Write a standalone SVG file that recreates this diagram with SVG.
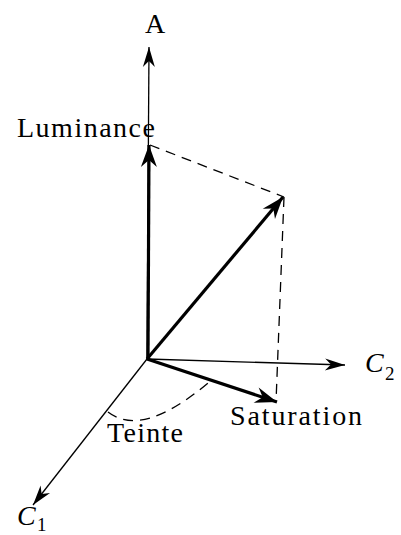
<svg xmlns="http://www.w3.org/2000/svg" width="401" height="535" viewBox="0 0 401 535">
<style>
.thin{stroke:#000;stroke-width:1.3;fill:none}
.thick{stroke:#000;stroke-width:3.2;fill:none}
.dash{stroke:#000;stroke-width:1.3;fill:none;stroke-dasharray:10 7}
text{font-family:"Liberation Serif","Times New Roman",serif;font-size:28px;fill:#000}
.it{font-style:italic}
.sub{font-size:19px}
</style>
<defs>
<marker id="ah" markerUnits="userSpaceOnUse" markerWidth="24" markerHeight="16" viewBox="-22 -8 24 16" refX="0" refY="0" orient="auto">
<path d="M0,0 L-20,-6 L-14,0 L-20,6 Z" fill="#000"/>
</marker>
<marker id="ahb" markerUnits="userSpaceOnUse" markerWidth="26" markerHeight="20" viewBox="-24 -10 26 20" refX="0" refY="0" orient="auto">
<path d="M0,0 L-22,-8 L-15,0 L-22,8 Z" fill="#000"/>
</marker>
</defs>
<g id="connectors">
<line id="axis-A" class="thin" x1="147" y1="359" x2="149" y2="47" marker-end="url(#ah)"/>
<line id="axis-C2" class="thin" x1="147" y1="359" x2="345" y2="365" marker-end="url(#ah)"/>
<line id="axis-C1" class="thin" x1="147" y1="359" x2="33" y2="505" marker-end="url(#ah)"/>
<line id="vec-luminance" class="thick" x1="148" y1="359" x2="149" y2="145" marker-end="url(#ahb)"/>
<line id="vec-color" class="thick" x1="147" y1="359" x2="283" y2="197" marker-end="url(#ahb)"/>
<line id="vec-saturation" class="thick" x1="147" y1="359" x2="277" y2="402" marker-end="url(#ahb)"/>
<line id="dash-top" class="dash" x1="150" y1="145" x2="284" y2="197"/>
<line id="dash-vert" class="dash" x1="284" y1="197" x2="276" y2="402"/>
<path id="arc-teinte" class="dash" d="M108,412 Q142,438.5 208,383"/>
</g>
<g id="label-A"><text x="155" y="33" text-anchor="middle">A</text></g>
<g id="label-luminance"><text x="17" y="137" textLength="138" lengthAdjust="spacing">Luminance</text></g>
<g id="label-C2"><text x="365" y="372" class="it">C</text><text x="385" y="380" class="sub">2</text></g>
<g id="label-saturation"><text x="230" y="425" textLength="132" lengthAdjust="spacing">Saturation</text></g>
<g id="label-teinte"><text x="107" y="442" textLength="76" lengthAdjust="spacing">Teinte</text></g>
<g id="label-C1"><text x="17" y="525" class="it">C</text><text x="37" y="531" class="sub">1</text></g>
</svg>
